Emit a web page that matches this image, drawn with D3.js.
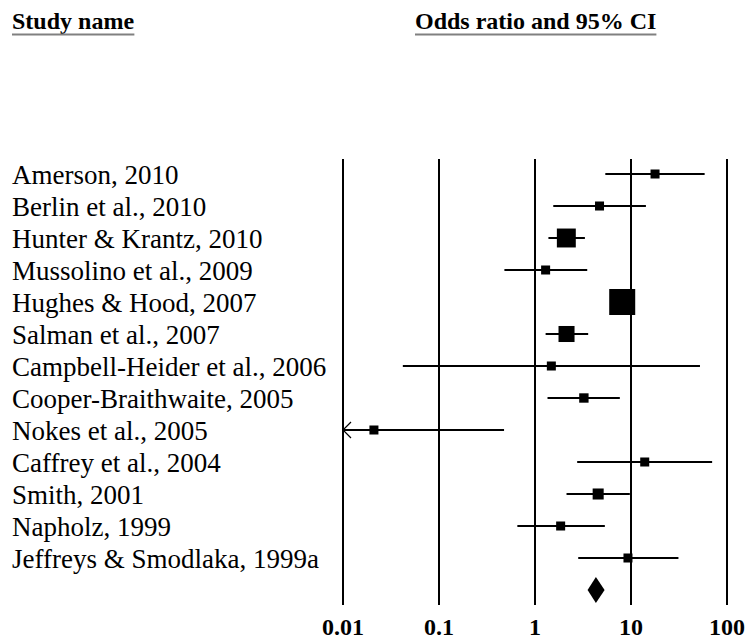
<!DOCTYPE html>
<html lang="en">
    <head>
        <meta charset="utf-8">
        <title>Forest plot</title>
        <script type="text/javascript" src="https://d3js.org/d3.v7.min.js"></script>
        <style>
            body { margin: 0; background: #FFFFFF; }
            text { font-family: "Liberation Serif", "Times New Roman", serif; fill: #000000; }
        </style>
    </head>
    <body>
        <script>
        // Studies, top to bottom
        const studies = ["Amerson, 2010", "Berlin et al., 2010", "Hunter & Krantz, 2010",
            "Mussolino et al., 2009", "Hughes & Hood, 2007", "Salman et al., 2007",
            "Campbell-Heider et al., 2006", "Cooper-Braithwaite, 2005", "Nokes et al., 2005",
            "Caffrey et al., 2004", "Smith, 2001", "Napholz, 1999", "Jeffreys & Smodlaka, 1999a"];
        const oddsRatio = [17.8, 4.7, 2.12, 1.29, 8.1, 2.13, 1.48, 3.23, 0.021, 13.9, 4.55, 1.85, 9.3];
        const lowerCI   = [5.4, 1.55, 1.38, 0.48, 6.2, 1.29, 0.042, 1.35, 0.002, 2.75, 2.13, 0.655, 2.82];
        const upperCI   = [58.5, 14.3, 3.31, 3.5, 10.5, 3.58, 52.3, 7.65, 0.476, 70, 9.72, 5.34, 31.2];
        // relative weight of each study (box size)
        const weights   = [1.2, 1.2, 5.3, 1.2, 10, 3.8, 1.2, 1.3, 1.2, 1.2, 1.8, 1.2, 1.2];
        // summary effect
        const summary = {or: 4.31, lower: 3.53, upper: 5.31};
        const ticks = [0.01, 0.1, 1, 10, 100];
        const tickLabels = ["0.01", "0.1", "1", "10", "100"];

        const W = 750, H = 641;
        const margin = {top: 159, left: 343},
            width = 384,
            height = 446;

        const svg = d3.select("body")
            .append("svg")
                .attr("width", W)
                .attr("height", H)
                .style("background-color", "#FFFFFF");

        const plot = svg.append("g")
            .attr("transform", `translate(${margin.left}, ${margin.top})`);

        // X: log scale for odds ratio
        const x = d3.scaleLog()
            .domain([0.01, 100])
            .range([0, width]);

        // Y: one row per study, plus one for the summary
        const y = d3.scaleLinear()
            .domain([0, studies.length])
            .range([15, 431]);

        const box = d3.scaleSqrt()
            .domain([0, 10])
            .range([0, 26]);

        // Headers
        const headers = [
            {label: "Study name", x: 12},
            {label: "Odds ratio and 95% CI", x: 415}
        ];
        headers.forEach(function(h) {
            const t = svg.append("text")
                .attr("x", h.x)
                .attr("y", 29)
                .style("font-size", "24px")
                .attr("font-weight", 700)
                .text(h.label);
            const bb = t.node().getBBox();
            svg.append("line")
                .attr("x1", bb.x)
                .attr("x2", bb.x + bb.width)
                .attr("y1", 34.5)
                .attr("y2", 34.5)
                .attr("stroke", "#808080")
                .attr("stroke-width", 2);
        });

        // Vertical grid lines at each decade
        plot.selectAll("vline")
            .data(ticks)
            .join("line")
            .attr("x1", d => x(d))
            .attr("x2", d => x(d))
            .attr("y1", 0)
            .attr("y2", height)
            .attr("stroke", "black")
            .attr("stroke-width", 2);

        // Tick labels
        plot.selectAll("ticklabel")
            .data(ticks)
            .join("text")
            .attr("x", d => x(d))
            .attr("y", height + 30)
            .attr("text-anchor", "middle")
            .style("font-size", "24px")
            .attr("font-weight", 700)
            .text((d, i) => tickLabels[i]);

        // Study names
        svg.selectAll("studyname")
            .data(studies)
            .join("text")
            .attr("x", 12)
            .attr("y", (d, i) => margin.top + y(i) + 10)
            .style("font-size", "27px")
            .text(d => d);

        // CI lines (clipped to plot range)
        const lo = x.domain()[0], hi = x.domain()[1];
        plot.selectAll("ciline")
            .data(studies)
            .join("line")
            .attr("x1", (d, i) => x(Math.max(lowerCI[i], lo)))
            .attr("x2", (d, i) => x(Math.min(upperCI[i], hi)))
            .attr("y1", (d, i) => y(i))
            .attr("y2", (d, i) => y(i))
            .attr("stroke", "black")
            .attr("stroke-width", 2);

        // Arrows where CI runs past the left edge
        studies.forEach(function(d, i) {
            if (lowerCI[i] < lo) {
                const ax = x(lo), ay = y(i);
                plot.append("path")
                    .attr("d", `M${ax + 8},${ay - 8} L${ax},${ay} L${ax + 8},${ay + 8}`)
                    .attr("fill", "none")
                    .attr("stroke", "black")
                    .attr("stroke-width", 1.2);
            }
        });

        // Boxes
        plot.selectAll("studybox")
            .data(studies)
            .join("rect")
            .attr("x", (d, i) => x(oddsRatio[i]) - box(weights[i]) / 2)
            .attr("y", (d, i) => y(i) - box(weights[i]) / 2)
            .attr("width", (d, i) => box(weights[i]))
            .attr("height", (d, i) => box(weights[i]))
            .style("fill", "black");

        // Summary diamond
        const sy = y(studies.length);
        plot.append("path")
            .attr("d", `M${x(summary.lower)},${sy} L${x(summary.or)},${sy - 13} L${x(summary.upper)},${sy} L${x(summary.or)},${sy + 13} Z`)
            .style("fill", "black");

        </script>
    </body>
</html>
